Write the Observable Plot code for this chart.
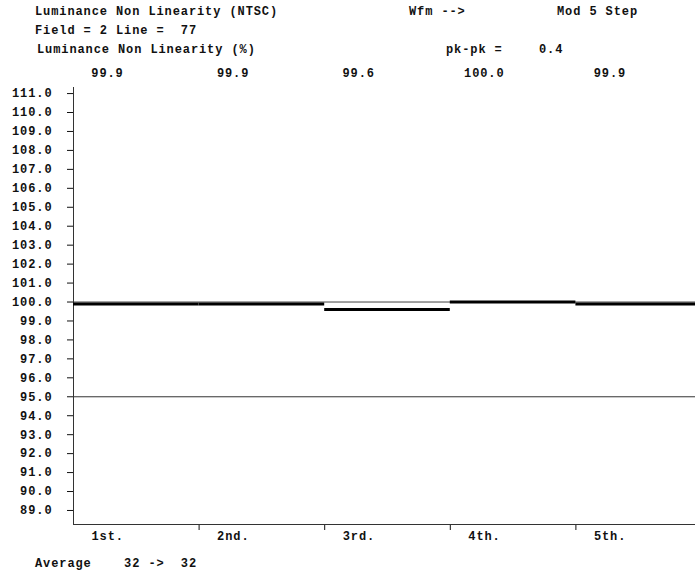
<!DOCTYPE html>
<html><head><meta charset="utf-8">
<script src="https://cdn.jsdelivr.net/npm/d3@7"></script>
<script src="https://cdn.jsdelivr.net/npm/@observablehq/plot@0.6"></script>
<style>
body{margin:0;background:#fff;}
#chart svg text{font-family:"Liberation Mono",monospace;font-weight:bold;letter-spacing:0.9px;white-space:pre;}
</style></head><body><div id="chart"></div>
<script>
// ---- data ----
const steps = ["1st.", "2nd.", "3rd.", "4th.", "5th."];
const stepStart = [0, 1, 2, 3, 4];
const values = [99.9, 99.9, 99.6, 100.0, 99.9];
const yTicks = [89, 90, 91, 92, 93, 94, 95, 96, 97, 98, 99, 100, 101, 102, 103, 104, 105, 106, 107, 108, 109, 110, 111];
const xBoundaryTicks = [1, 2, 3, 4];
const refLevel = 100.0;
const limitLevel = 95.0;
const yDomain = [88.26, 111.32];
const headerTexts = [
  {text: "Luminance Non Linearity (NTSC)", x: 35, y: 15},
  {text: "Wfm -->", x: 409, y: 15},
  {text: "Mod 5 Step", x: 557, y: 15},
  {text: "Field = 2 Line =  77", x: 35, y: 34},
  {text: "Luminance Non Linearity (%)", x: 37, y: 53},
  {text: "pk-pk =", x: 446, y: 53},
  {text: "0.4", x: 539, y: 53},
  {text: "Average    32 ->  32", x: 35, y: 567}
];

const data = steps.map((s, i) => ({step: s, start: stepStart[i], end: stepStart[i] + 1, value: values[i]}));

const plot = Plot.plot({
  width: 695, height: 573,
  marginLeft: 73, marginRight: -6, marginTop: 87, marginBottom: 49,
  style: {fontSize: "12px", color: "#111", background: "#fff"},
  x: {domain: [0, 5], ticks: xBoundaryTicks, tickFormat: () => "", tickSize: 6, label: null},
  y: {domain: yDomain, ticks: yTicks, tickFormat: d => d.toFixed(1), tickSize: 6, tickPadding: 15, label: null},
  marks: [
    Plot.ruleY([refLevel], {stroke: "#444", strokeWidth: 1}),
    Plot.ruleY([limitLevel], {stroke: "#333", strokeWidth: 1}),
    Plot.ruleY([yDomain[0]], {stroke: "#333", strokeWidth: 1}),
    Plot.ruleX([0], {stroke: "#333", strokeWidth: 1}),
    Plot.ruleY(data, {x1: "start", x2: "end", y: "value", stroke: "#000", strokeWidth: 3}),
    Plot.text(data, {x: "start", text: d => d.value.toFixed(1), frameAnchor: "top", dy: -19, dx: 34, fill: "#111"}),
    Plot.text(data, {x: "start", text: "step", frameAnchor: "bottom", dy: 15, dx: 18, textAnchor: "start", fill: "#111"})
  ]
});

const svg = d3.select(plot);
svg.append("g").attr("text-anchor", "start").selectAll("text").data(headerTexts).join("text")
  .attr("x", d => d.x).attr("y", d => d.y)
  .attr("text-anchor", "start")
  .attr("font-size", 12).attr("fill", "#111")
  .text(d => d.text);

document.getElementById("chart").appendChild(plot);
</script></body></html>
